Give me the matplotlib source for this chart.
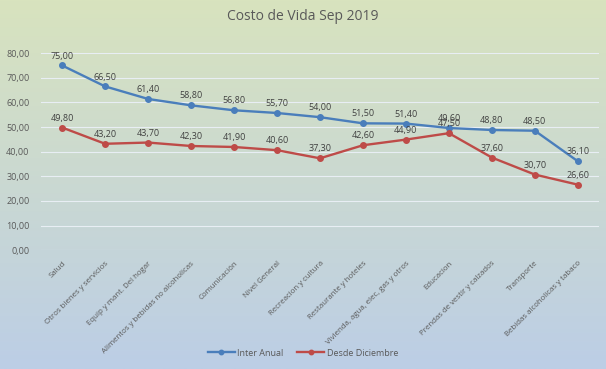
import numpy as np
import matplotlib
matplotlib.use('Agg')
import matplotlib.pyplot as plt

categories = ['Salud', 'Otros bienes y servicios', 'Equip y mant. Del hogar',
              'Alimentos y bebidas no alcoholicas', 'Comunicación', 'Nivel General',
              'Recreacion y cultura', 'Restaurante y hoteles',
              'Vivienda, agua, elec, gas y otros', 'Educacion',
              'Prendas de vestir y calzados', 'Transporte',
              'Bebidas alcoholicas y tabaco']
inter_anual = [75.0, 66.5, 61.4, 58.8, 56.8, 55.7, 54.0, 51.5, 51.4, 49.6, 48.8, 48.5, 36.1]
desde_dic = [49.8, 43.2, 43.7, 42.3, 41.9, 40.6, 37.3, 42.6, 44.9, 47.5, 37.6, 30.7, 26.6]
y_ticks = [0, 10, 20, 30, 40, 50, 60, 70, 80]

plt.rcParams['font.family'] = ['Open Sans', 'DejaVu Sans']
text_col = '#595959'

fig = plt.figure(figsize=(6.06, 3.69), dpi=100)

# gradient background
bg = fig.add_axes([0, 0, 1, 1])
top = np.array([216, 227, 190]) / 255
bot = np.array([188, 206, 230]) / 255
t = np.linspace(0, 1, 256)[:, None]
grad = top * (1 - t) + bot * t
bg.imshow(grad[:, None, :], aspect='auto', extent=[0, 1, 0, 1])
bg.axis('off')

ax = fig.add_axes([0.067, 0.322, 0.922, 0.534])
ax.patch.set_alpha(0)
x = np.arange(len(categories))
blue = '#4a7ebb'
red = '#be4b48'
ax.plot(x, inter_anual, color=blue, lw=1.7, marker='o', ms=4, label='Inter Anual')
ax.plot(x, desde_dic, color=red, lw=1.7, marker='o', ms=4, label='Desde Diciembre')

def fmt(v):
    return f'{v:.2f}'.replace('.', ',')

for xi, v in zip(x, inter_anual):
    ax.annotate(fmt(v), (xi, v), xytext=(0, 3.5), textcoords='offset points',
                ha='center', va='bottom', fontsize=6.5, color='#404040')
for xi, v in zip(x, desde_dic):
    ax.annotate(fmt(v), (xi, v), xytext=(0, 3.5), textcoords='offset points',
                ha='center', va='bottom', fontsize=6.5, color='#404040')

ax.set_xlim(-0.5, len(categories) - 0.5)
ax.set_ylim(0, 80)
ax.set_yticks(y_ticks)
ax.set_yticklabels([fmt(v) for v in y_ticks], fontsize=6.5, color=text_col)
ax.set_xticks(x)
ax.set_xticklabels(categories, rotation=45, ha='right', rotation_mode='anchor',
                   fontsize=5.7, color=text_col)
ax.tick_params(axis='y', length=0, pad=8)
ax.tick_params(axis='x', length=0, pad=7)
ax.grid(axis='y', color='#e8eef4', lw=0.8)
for s in ax.spines.values():
    s.set_visible(False)
ax.set_axisbelow(True)

fig.text(0.5, 0.955, 'Costo de Vida Sep 2019', ha='center', va='center',
         fontsize=10, color=text_col)
fig.legend(loc='center', bbox_to_anchor=(0.5, 0.043), ncol=2, frameon=False,
           fontsize=6.5, labelcolor=text_col, handlelength=3, columnspacing=1.5,
           handletextpad=0.3, markerscale=0.8)

fig.savefig('out.png', dpi=100)
